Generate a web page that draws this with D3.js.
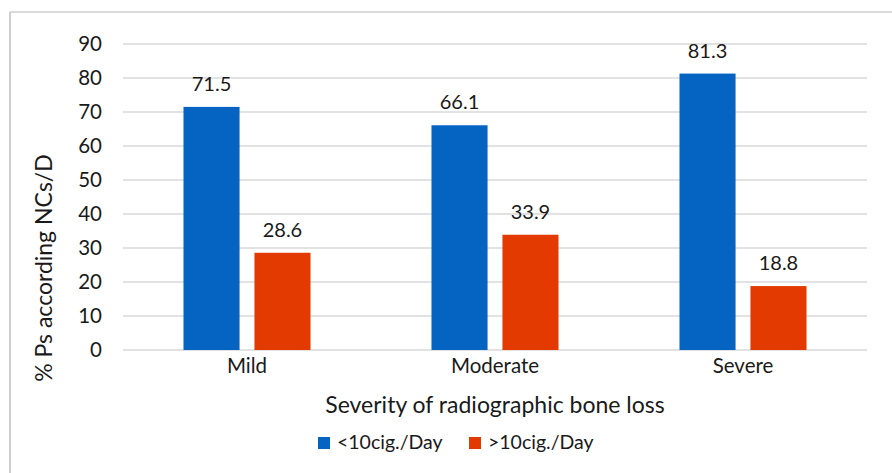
<!DOCTYPE html>
<html>
<head>
<meta charset="utf-8">
<script src="https://cdn.jsdelivr.net/npm/d3@7"></script>
<style>
  html, body { margin: 0; padding: 0; background: #fff; }
  svg text { font-family: Lato, "Open Sans", sans-serif; fill: #1a1a1a; }
</style>
</head>
<body>
<svg id="chart" width="892" height="473"></svg>
<script>
// Share of patients by smoking level, per severity of bone loss
const categories = ["Mild", "Moderate", "Severe"];
const seriesNames = ["<10cig./Day", ">10cig./Day"];
const lowSmokers = [71.5, 66.1, 81.3];
const highSmokers = [28.6, 33.9, 18.8];
const yTicks = [0, 10, 20, 30, 40, 50, 60, 70, 80, 90];
const colors = ["#0563C1", "#E23A00"];

const svg = d3.select("#chart");
const W = 892, H = 473;
const FONT = "Lato, 'Open Sans', sans-serif";

// chart frame (left and top edges only)
svg.append("line").attr("x1", 10).attr("x2", 10).attr("y1", 12).attr("y2", H)
  .attr("stroke", "#cfcfcf").attr("stroke-width", 2);
svg.append("line").attr("x1", 10).attr("x2", W).attr("y1", 12).attr("y2", 12)
  .attr("stroke", "#cfcfcf").attr("stroke-width", 1.5);

const plot = { left: 123, right: 867, top: 44, bottom: 350 };

const x = d3.scaleBand().domain(categories).range([plot.left, plot.right]);
const y = d3.scaleLinear().domain([0, 90]).range([plot.bottom, plot.top]);
const groupWidth = 127;
const inner = d3.scaleBand().domain(seriesNames)
  .range([0, groupWidth]).paddingInner(0.21);

// gridlines
svg.append("g").selectAll("line").data(yTicks).join("line")
  .attr("x1", plot.left).attr("x2", plot.right)
  .attr("y1", d => y(d)).attr("y2", d => y(d))
  .attr("stroke", "#d9d9d9").attr("stroke-width", 1.5);

// y axis labels
const yAxis = d3.axisLeft(y).tickValues(yTicks).tickSize(0).tickPadding(0);
const gy = svg.append("g").attr("transform", `translate(${plot.left - 21},0)`).call(yAxis);
gy.select(".domain").remove();
gy.selectAll("text").attr("font-size", 20.5).attr("fill", "#1a1a1a")
  .style("font-family", FONT);

// x axis labels
const xAxis = d3.axisBottom(x).tickSize(0).tickPadding(0);
const gx = svg.append("g").attr("transform", `translate(0,${plot.bottom + 8})`).call(xAxis);
gx.select(".domain").remove();
gx.selectAll("text").attr("font-size", 20.5).attr("fill", "#1a1a1a")
  .style("font-family", FONT);

// bars
const groups = categories.map((c, i) => ({
  cat: c,
  vals: [{ s: seriesNames[0], v: lowSmokers[i], k: 0 }, { s: seriesNames[1], v: highSmokers[i], k: 1 }]
}));

const g = svg.append("g").selectAll("g").data(groups).join("g")
  .attr("transform", d => `translate(${x(d.cat) + (x.bandwidth() - groupWidth) / 2},0)`);

g.selectAll("rect").data(d => d.vals).join("rect")
  .attr("x", d => inner(d.s))
  .attr("width", inner.bandwidth())
  .attr("y", d => y(d.v))
  .attr("height", d => y(0) - y(d.v))
  .attr("fill", d => colors[d.k]);

g.selectAll("text.val").data(d => d.vals).join("text")
  .attr("class", "val")
  .attr("x", d => inner(d.s) + inner.bandwidth() / 2)
  .attr("y", d => y(d.v) - 16)
  .attr("text-anchor", "middle")
  .attr("font-size", 20)
  .text(d => d.v.toFixed(1));

// axis titles
svg.append("text")
  .attr("transform", `translate(52,268) rotate(-90)`)
  .attr("text-anchor", "middle").attr("font-size", 23)
  .text("% Ps according NCs/D");

svg.append("text")
  .attr("x", 495).attr("y", 413)
  .attr("text-anchor", "middle").attr("font-size", 23)
  .text("Severity of radiographic bone loss");

// legend
const legendX = [318, 469];
const leg = svg.append("g").selectAll("g").data(seriesNames).join("g")
  .attr("transform", (d, i) => `translate(${legendX[i]},437)`);
leg.append("rect").attr("width", 12).attr("height", 12).attr("fill", (d, i) => colors[i]);
leg.append("text").attr("x", 19).attr("y", 12).attr("font-size", 19.5).text(d => d);
</script>
</body>
</html>
